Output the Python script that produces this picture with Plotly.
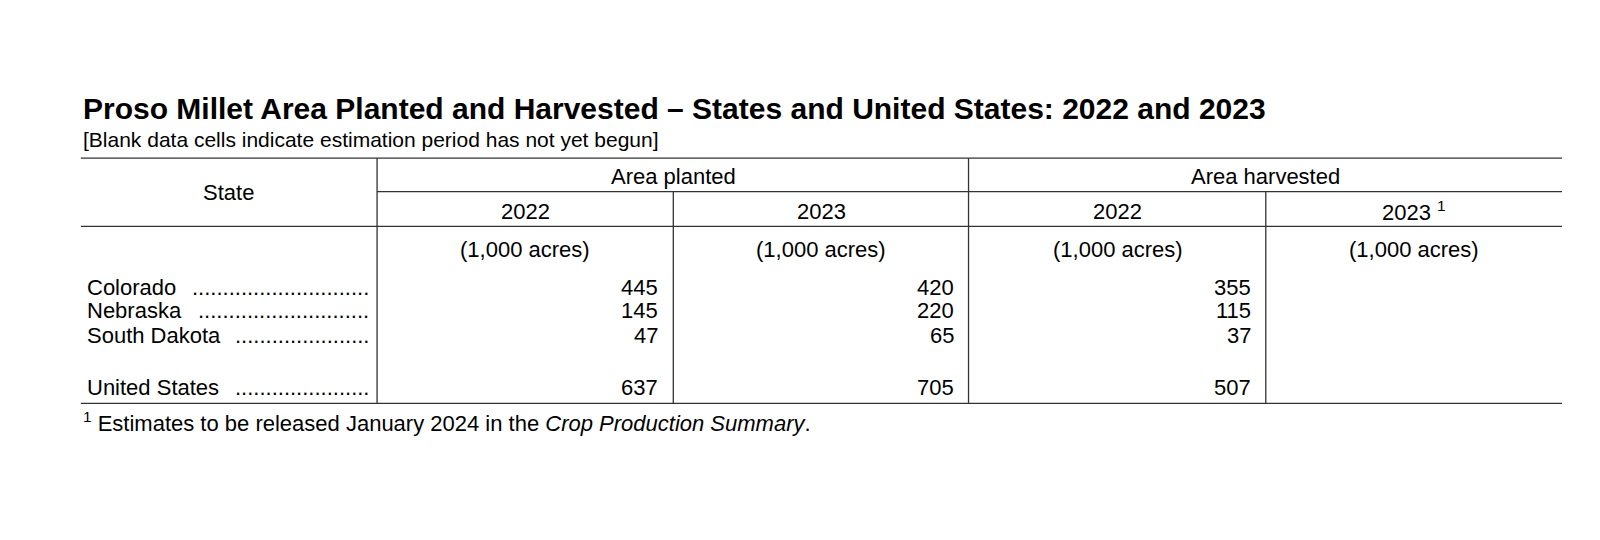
import plotly.graph_objects as go

title = "Proso Millet Area Planted and Harvested – States and United States: 2022 and 2023"
subtitle = "[Blank data cells indicate estimation period has not yet begun]"
groups = ["Area planted", "Area harvested"]
years = ["2022", "2023", "2022", "2023 <sup>1</sup>"]
unit = "(1,000 acres)"
states = ["Colorado", "Nebraska", "South Dakota", "United States"]
planted_2022 = [445, 145, 47, 637]
planted_2023 = [420, 220, 65, 705]
harvested_2022 = [355, 115, 37, 507]
harvested_2023 = [None, None, None, None]
footnote = "<sup>1</sup> Estimates to be released January 2024 in the <i>Crop Production Summary</i>."

F = "Liberation Sans, Arial, sans-serif"
fig = go.Figure()
ann = []
def t(x, y, s, size=22, xa="center", bold=False):
    ann.append(dict(x=x, y=y, text=f"<b>{s}</b>" if bold else s, showarrow=False,
                    xanchor=xa, yanchor="middle", font=dict(family=F, size=size, color="black")))

t(80, 105, title, 30, "left", True)
t(80, 136, subtitle, 21, "left")
t(225, 188, "State")
t(660, 172, groups[0]); t(1240, 172, groups[1])
centers = [515, 805, 1095, 1385]
for c, yr in zip(centers, years):
    t(c, 206, yr); t(c, 244, unit)
rows_y = [281, 304, 328, 379]
dots = [29, 28, 22, 22]
rights = [647, 937, 1227, 1517]
cols = [planted_2022, planted_2023, harvested_2022, harvested_2023]
for i, s in enumerate(states):
    t(84, rows_y[i], s, 22, "left")
    t(364, rows_y[i], "." * dots[i], 22, "right")
    for r, col in zip(rights, cols):
        if col[i] is not None:
            t(r, rows_y[i], f"{col[i]:,}", 22, "right")
t(80, 413, footnote, 22, "left")

shapes = []
def ln(x0, y0, x1, y1):
    shapes.append(dict(type="line", x0=x0, y0=y0, x1=x1, y1=y1, line=dict(color="#333", width=1.3)))
ln(80, 154, 1530, 154); ln(370, 187, 1530, 187); ln(80, 221, 1530, 221); ln(80, 395, 1530, 395)
ln(370, 154, 370, 395); ln(949, 154, 949, 395); ln(660, 187, 660, 395); ln(1240, 187, 1240, 395)

fig.update_layout(width=1600, height=540, margin=dict(l=0, r=0, t=0, b=0),
                  paper_bgcolor="white", plot_bgcolor="white",
                  xaxis=dict(range=[8.7, 1575], visible=False),
                  yaxis=dict(range=[537, 6.6], visible=False),
                  annotations=ann, shapes=shapes, showlegend=False)
fig.write_html("out.html")
